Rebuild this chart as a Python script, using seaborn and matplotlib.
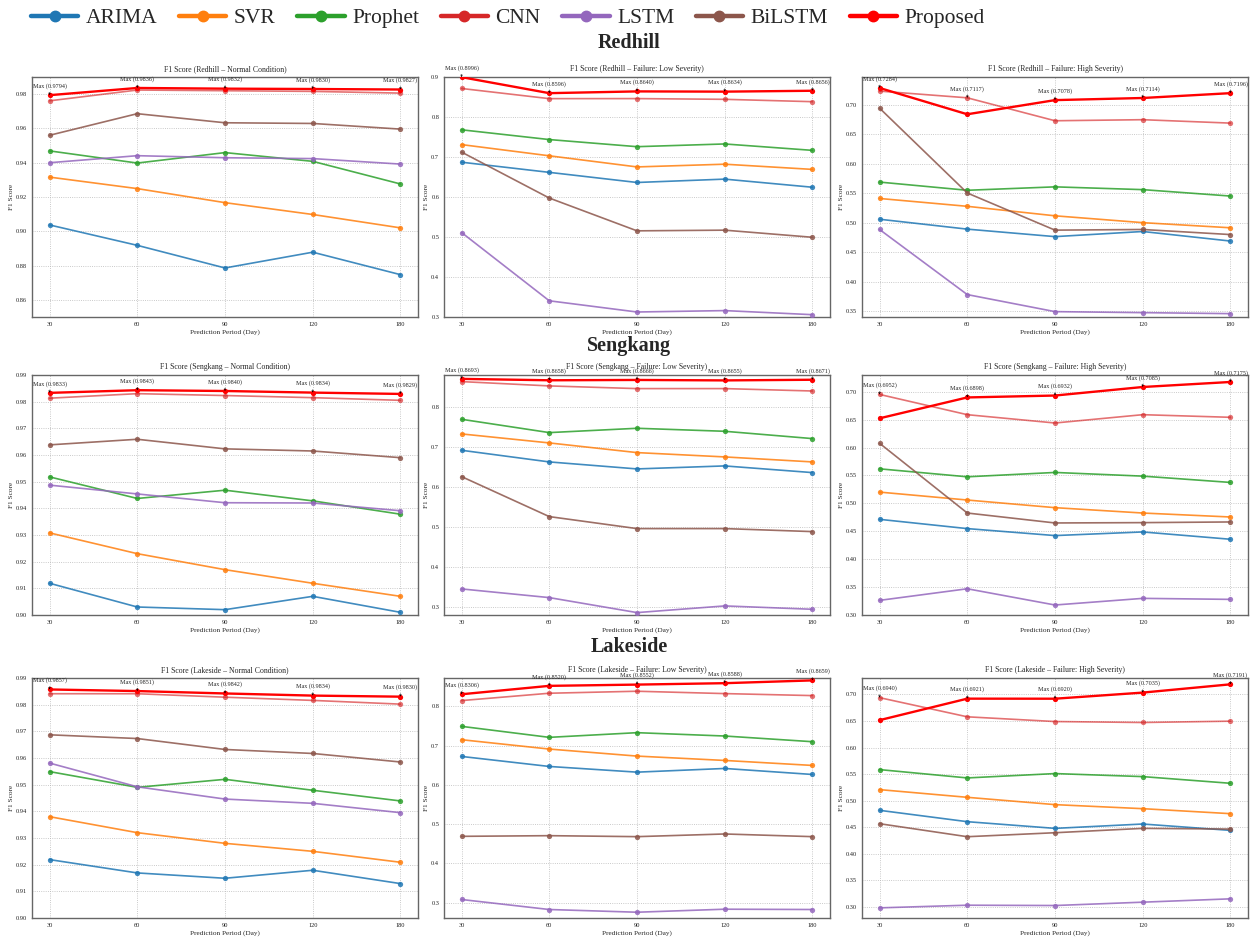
import numpy as np
import pandas as pd
import matplotlib
matplotlib.use("Agg")
import matplotlib.pyplot as plt
from matplotlib.lines import Line2D
import seaborn as sns

# ---------------- data ----------------
periods = ["30", "60", "90", "120", "180"]
models = ["ARIMA", "SVR", "Prophet", "CNN", "LSTM", "BiLSTM", "Proposed"]
colors = ["#1f77b4", "#ff7f0e", "#2ca02c", "#d62728", "#9467bd", "#8c564b", "#ff0000"]

redhill_normal = {
    "ARIMA":    [0.9037, 0.8918, 0.8786, 0.8878, 0.8747],
    "SVR":      [0.9316, 0.9249, 0.9167, 0.9098, 0.9020],
    "Prophet":  [0.9469, 0.9398, 0.9459, 0.9408, 0.9276],
    "CNN":      [0.9761, 0.9824, 0.9820, 0.9816, 0.9806],
    "LSTM":     [0.9400, 0.9441, 0.9429, 0.9424, 0.9392],
    "BiLSTM":   [0.9560, 0.9686, 0.9633, 0.9629, 0.9596],
    "Proposed": [0.9794, 0.9836, 0.9832, 0.9830, 0.9827],
}
redhill_low = {
    "ARIMA":    [0.6870, 0.6616, 0.6363, 0.6447, 0.6244],
    "SVR":      [0.7310, 0.7030, 0.6752, 0.6820, 0.6690],
    "Prophet":  [0.7680, 0.7436, 0.7258, 0.7326, 0.7166],
    "CNN":      [0.8713, 0.8459, 0.8460, 0.8442, 0.8383],
    "LSTM":     [0.5112, 0.3405, 0.3125, 0.3160, 0.3058],
    "BiLSTM":   [0.7123, 0.5974, 0.5154, 0.5171, 0.4993],
    "Proposed": [0.8996, 0.8596, 0.8640, 0.8634, 0.8656],
}
redhill_high = {
    "ARIMA":    [0.5058, 0.4890, 0.4763, 0.4850, 0.4688],
    "SVR":      [0.5410, 0.5277, 0.5116, 0.5000, 0.4913],
    "Prophet":  [0.5688, 0.5549, 0.5607, 0.5560, 0.5451],
    "CNN":      [0.7231, 0.7117, 0.6728, 0.6746, 0.6688],
    "LSTM":     [0.4884, 0.3780, 0.3491, 0.3474, 0.3457],
    "BiLSTM":   [0.6942, 0.5503, 0.4873, 0.4884, 0.4798],
    "Proposed": [0.7284, 0.6838, 0.7078, 0.7114, 0.7196],
}
sengkang_normal = {
    "ARIMA":    [0.9119, 0.9030, 0.9020, 0.9070, 0.9010],
    "SVR":      [0.9308, 0.9230, 0.9170, 0.9119, 0.9070],
    "Prophet":  [0.9518, 0.9437, 0.9468, 0.9428, 0.9378],
    "CNN":      [0.9813, 0.9830, 0.9823, 0.9815, 0.9805],
    "LSTM":     [0.9487, 0.9454, 0.9421, 0.9420, 0.9391],
    "BiLSTM":   [0.9638, 0.9659, 0.9623, 0.9615, 0.9590],
    "Proposed": [0.9833, 0.9843, 0.9840, 0.9834, 0.9829],
}
sengkang_low = {
    "ARIMA":    [0.6908, 0.6617, 0.6442, 0.6517, 0.6350],
    "SVR":      [0.7317, 0.7092, 0.6850, 0.6742, 0.6617],
    "Prophet":  [0.7683, 0.7350, 0.7458, 0.7383, 0.7200],
    "CNN":      [0.8625, 0.8517, 0.8450, 0.8450, 0.8390],
    "LSTM":     [0.3442, 0.3225, 0.2850, 0.3017, 0.2933],
    "BiLSTM":   [0.6250, 0.5250, 0.4950, 0.4950, 0.4875],
    "Proposed": [0.8693, 0.8658, 0.8666, 0.8655, 0.8671],
}
sengkang_high = {
    "ARIMA":    [0.4714, 0.4548, 0.4423, 0.4488, 0.4357],
    "SVR":      [0.5202, 0.5060, 0.4923, 0.4827, 0.4756],
    "Prophet":  [0.5619, 0.5476, 0.5554, 0.5488, 0.5375],
    "CNN":      [0.6952, 0.6589, 0.6440, 0.6589, 0.6542],
    "LSTM":     [0.3262, 0.3470, 0.3179, 0.3298, 0.3280],
    "BiLSTM":   [0.6077, 0.4827, 0.4649, 0.4655, 0.4667],
    "Proposed": [0.6524, 0.6898, 0.6932, 0.7085, 0.7175],
}
lakeside_normal = {
    "ARIMA":    [0.9219, 0.9169, 0.9149, 0.9179, 0.9129],
    "SVR":      [0.9380, 0.9320, 0.9280, 0.9250, 0.9209],
    "Prophet":  [0.9549, 0.9490, 0.9520, 0.9479, 0.9439],
    "CNN":      [0.9841, 0.9841, 0.9828, 0.9816, 0.9802],
    "LSTM":     [0.9581, 0.9492, 0.9446, 0.9430, 0.9395],
    "BiLSTM":   [0.9687, 0.9673, 0.9632, 0.9617, 0.9585],
    "Proposed": [0.9857, 0.9851, 0.9842, 0.9834, 0.9830],
}
lakeside_low = {
    "ARIMA":    [0.6723, 0.6468, 0.6323, 0.6417, 0.6264],
    "SVR":      [0.7149, 0.6911, 0.6732, 0.6621, 0.6494],
    "Prophet":  [0.7489, 0.7209, 0.7328, 0.7243, 0.7098],
    "CNN":      [0.8145, 0.8332, 0.8383, 0.8323, 0.8272],
    "LSTM":     [0.3081, 0.2826, 0.2757, 0.2834, 0.2826],
    "BiLSTM":   [0.4689, 0.4706, 0.4681, 0.4749, 0.4681],
    "Proposed": [0.8306, 0.8520, 0.8552, 0.8588, 0.8659],
}
lakeside_high = {
    "ARIMA":    [0.4818, 0.4604, 0.4478, 0.4560, 0.4440],
    "SVR":      [0.5208, 0.5063, 0.4925, 0.4849, 0.4755],
    "Prophet":  [0.5585, 0.5428, 0.5510, 0.5453, 0.5327],
    "CNN":      [0.6940, 0.6579, 0.6490, 0.6472, 0.6497],
    "LSTM":     [0.2981, 0.3031, 0.3025, 0.3088, 0.3151],
    "BiLSTM":   [0.4566, 0.4321, 0.4396, 0.4478, 0.4465],
    "Proposed": [0.6516, 0.6921, 0.6920, 0.7035, 0.7191],
}

sites = ["Redhill", "Sengkang", "Lakeside"]
conditions = ["Normal Condition", "Failure: Low Severity", "Failure: High Severity"]
panel_data = [
    [redhill_normal, redhill_low, redhill_high],
    [sengkang_normal, sengkang_low, sengkang_high],
    [lakeside_normal, lakeside_low, lakeside_high],
]
# axis limits / tick steps per panel
ylims = [
    [(0.85, 0.99), (0.30, 0.90), (0.340, 0.747)],
    [(0.90, 0.99), (0.279, 0.879), (0.30, 0.730)],
    [(0.90, 0.99), (0.261, 0.872), (0.279, 0.731)],
]
yticks = [
    [np.arange(0.86, 0.981, 0.02), np.arange(0.3, 0.901, 0.1), np.arange(0.35, 0.701, 0.05)],
    [np.arange(0.90, 0.991, 0.01), np.arange(0.3, 0.801, 0.1), np.arange(0.30, 0.701, 0.05)],
    [np.arange(0.90, 0.991, 0.01), np.arange(0.3, 0.801, 0.1), np.arange(0.30, 0.701, 0.05)],
]
yfmt = [["%.2f", "%.1f", "%.2f"], ["%.2f", "%.1f", "%.2f"], ["%.2f", "%.1f", "%.2f"]]

# ---------------- style ----------------
sns.set_style("white")
plt.rcParams["font.family"] = ["Liberation Serif", "DejaVu Serif"]
plt.rcParams["mathtext.fontset"] = "stix"

W, H = 1259, 940
fig = plt.figure(figsize=(W / 100, H / 100), dpi=100)

col_left = [32, 444, 862]
col_w = 386
row_top = [77, 375, 678]
row_h = 240
section_y = [43, 346, 647]

palette = dict(zip(models, colors))

for r in range(3):
    fig.text(0.5, 1 - section_y[r] / H, sites[r], ha="center", va="center",
             fontsize=14.5, fontweight="bold")
    for c in range(3):
        ax = fig.add_axes([col_left[c] / W, 1 - (row_top[r] + row_h) / H, col_w / W, row_h / H])
        d = panel_data[r][c]
        rows = []
        for m in models:
            for i, v in enumerate(d[m]):
                rows.append({"model": m, "pos": i, "f1": v})
        df = pd.DataFrame(rows)
        for m in models:
            sub = df[df["model"] == m]
            is_prop = m == "Proposed"
            sns.lineplot(data=sub, x="pos", y="f1", ax=ax, color=palette[m],
                         marker="o", markersize=3.8, markeredgewidth=0,
                         linewidth=1.7 if is_prop else 1.2,
                         alpha=1.0 if is_prop else (0.65 if m == "CNN" else 0.85),
                         zorder=4 if is_prop else 3, legend=False)
        # max annotations
        for i in range(len(periods)):
            vals = [d[m][i] for m in models]
            mx = max(vals)
            ax.annotate(f"Max ({mx:.4f})", xy=(i, mx), xytext=(0, 4.5),
                        textcoords="offset points", ha="center", va="bottom",
                        fontsize=4.4,
                        arrowprops=dict(arrowstyle="->", lw=0.4, color="black",
                                        shrinkA=0, shrinkB=0, mutation_scale=3),
                        annotation_clip=False, zorder=6)
        ax.set_xlim(-0.2, 4.2)
        ax.set_xticks(range(len(periods)))
        ax.set_xticklabels(periods)
        ax.set_ylim(*ylims[r][c])
        ax.set_yticks(yticks[r][c])
        ax.set_yticklabels([yfmt[r][c] % t for t in yticks[r][c]])
        ax.tick_params(axis="both", labelsize=4.6, length=2, width=0.5, pad=1.5,
                       colors="#222222")
        ax.grid(True, linestyle=":", linewidth=0.6, color="#b8b8b8")
        ax.set_axisbelow(True)
        for s in ax.spines.values():
            s.set_color("#666666")
            s.set_linewidth(1.0)
        ax.set_xlabel("Prediction Period (Day)", fontsize=5.2, labelpad=1.5)
        ax.set_ylabel("F1 Score", fontsize=5.2, labelpad=1.5)
        ax.set_title(f"F1 Score ({sites[r]} \u2013 {conditions[c]})", fontsize=5.6, pad=4)

handles = [Line2D([0], [0], color=palette[m], lw=3.2, marker="o", markersize=7.5)
           for m in models]
fig.legend(handles, models, loc="upper left", bbox_to_anchor=(31 / W, 1 - 8 / H),
           ncol=7, frameon=False, fontsize=15.5, handlelength=2.2,
           handletextpad=0.35, columnspacing=1.0, borderpad=0.0, borderaxespad=0.0)

fig.savefig("out.png", dpi=100)
